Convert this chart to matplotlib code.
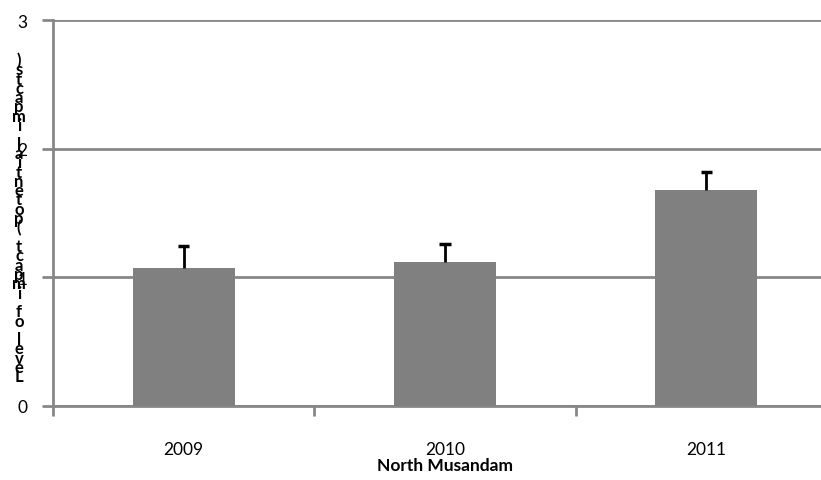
import matplotlib
matplotlib.use("Agg")
import matplotlib.pyplot as plt

categories = ["2009", "2010", "2011"]
values = [1.07, 1.12, 1.68]
errors = [0.17, 0.14, 0.14]
yticks = [0, 1, 2, 3]
ylabel = "Level of impact (potential impacts)"
xlabel = "North Musandam"

W, H = 821, 481
fig = plt.figure(figsize=(W / 100, H / 100), dpi=100)
ax = fig.add_axes([53 / W, 1 - 407 / H, (837 - 53) / W, (407 - 21) / H])

grid_c = "#878787"
font = ["Lato", "DejaVu Sans"]

x = list(range(len(categories)))
tops = [v + e for v, e in zip(values, errors)]
ax.bar(x, values, width=0.39, color="#808080", zorder=3)
ax.vlines(x, values, tops, color="black", linewidth=2, zorder=4)
ax.hlines(tops, [i - 0.022 for i in x], [i + 0.022 for i in x],
          color="black", linewidth=2.5, zorder=4)

ax.set_xlim(-0.5, len(categories) - 0.5)
ax.set_ylim(0, 3)
ax.set_yticks(yticks)
ax.set_yticklabels([str(t) for t in yticks], fontsize=12.5, family=font)
ax.yaxis.grid(True, color=grid_c, linewidth=2, zorder=0)
ax.set_axisbelow(True)

ax.set_xticks([i - 0.5 for i in x])
ax.set_xticklabels([])
ax.set_xticks(x, minor=True)
ax.set_xticklabels(categories, minor=True, fontsize=12.5, family=font)
ax.tick_params(axis="x", which="major", length=7, width=2, color=grid_c, direction="out")
ax.tick_params(axis="x", which="minor", length=0, pad=25)
ax.tick_params(axis="y", length=8, width=2, color=grid_c, pad=10.5)

for s in ["top", "right"]:
    ax.spines[s].set_visible(False)
for s in ["left", "bottom"]:
    ax.spines[s].set_color(grid_c)
    ax.spines[s].set_linewidth(2)

ax.set_xlabel(xlabel, fontsize=12.5, fontweight="bold", family=font, labelpad=0)

stacked = "\n".join(reversed(ylabel))
fig.text(19 / W, 1 - 219 / H, stacked, ha="center", va="center",
         fontsize=12, linespacing=0.485, family=font, color="black",
         fontweight="bold")

fig.savefig("out.png", dpi=100)
